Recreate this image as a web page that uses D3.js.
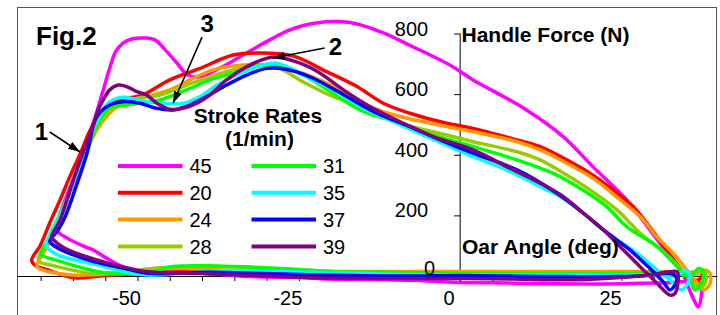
<!DOCTYPE html>
<html>
<head>
<meta charset="utf-8">
<script src="https://cdn.jsdelivr.net/npm/d3@7"></script>
<style>
body { margin: 0; background: #fff; }
svg { display: block; font-family: "Liberation Sans", Arial, sans-serif; }
.loop { fill: none; stroke-width: 3.5; stroke-linejoin: round; }
.axis path, .axis line { stroke: #000; }
.axis text, .ylab { font-size: 20px; fill: #000; font-family: "Liberation Sans", Arial, sans-serif; }
.lbl { font-weight: bold; fill: #000; }
.leg { font-size: 20px; fill: #000; }
</style>
</head>
<body>
<svg width="720" height="315"></svg>
<script>
// stroke rates (1/min), drawn in this order
const rates = ["45", "20", "24", "28", "31", "35", "37", "39"];
const colors = ["#ff00ff", "#ff0000", "#ff9900", "#99cc00", "#00ff00", "#00ffff", "#0000ff", "#800080"];

// [oar angle (deg), handle force (N)] per stroke, drive then recovery
const r45 = [[-62.5,152],[-61.2,251],[-59.7,333],[-58.1,422],[-56.6,521],[-55.4,607],[-54.3,686],[-53.4,739],[-52.2,769],[-50.9,782],[-48.8,785],[-47.3,779],[-45.7,746],[-43.9,703],[-42.2,663],[-40.3,657],[-37.2,686],[-33.1,736],[-29.5,779],[-26.4,812],[-22.3,835],[-17.1,836],[-12.4,806],[-7.3,756],[-1.6,696],[2.0,647],[9.8,554],[16.0,459],[20.6,360],[25.8,251],[29.4,152],[32.0,79],[34.1,26],[35.1,-23],[36.1,-73],[36.9,-102],[37.4,-60],[37.3,-25],[31.0,-23],[21.7,-26],[12.4,-25],[4.6,-22],[0.4,-22],[-6.2,-15],[-12.4,-12],[-20.7,-10],[-24.8,-5],[-32.6,-2],[-39.3,8],[-45.0,13],[-49.6,15],[-52.2,30],[-54.8,59],[-56.9,86],[-58.1,96],[-60.9,125]];
const r20 = [[-66.4,53],[-65.1,99],[-63.6,175],[-62.0,251],[-60.5,327],[-58.9,402],[-57.4,478],[-55.8,538],[-54.3,567],[-51.7,586],[-49.2,597],[-45.0,647],[-40.3,685],[-35.2,729],[-31.0,736],[-25.9,726],[-20.7,674],[-16.0,625],[-11.9,570],[-7.8,537],[-2.1,504],[2.0,487],[8.8,449],[12.4,427],[16.5,383],[20.1,339],[23.7,284],[26.8,229],[30.5,130],[34.1,25],[35.6,-7],[36.9,-13],[37.5,3],[36.7,13],[34.1,7],[21.7,7],[6.2,8],[0,9],[-9.3,8],[-24.8,13],[-40.3,16],[-48.1,10],[-55.8,0],[-59.7,-6],[-63.9,20],[-65.9,36]];
const r24 = [[-65.6,33],[-64.3,86],[-62.8,152],[-61.2,234],[-59.7,317],[-58.1,399],[-56.3,482],[-53.8,548],[-51.7,575],[-48.6,592],[-45.0,614],[-41.4,652],[-38.3,680],[-35.2,693],[-31.0,696],[-27.2,686],[-23.3,660],[-18.6,614],[-14.0,559],[-9.3,526],[-2.1,493],[2.0,476],[8.8,443],[12.4,416],[16.5,372],[20.6,322],[24.8,251],[27.9,196],[30.7,124],[33.0,75],[35.1,20],[36.6,-19],[37.7,-46],[38.7,-26],[38.7,10],[37.6,20],[36.9,7],[34.1,13],[21.7,15],[0,15],[-17.1,15],[-32.6,16],[-40.3,23],[-46.5,26],[-52.7,10],[-60.2,3],[-63.6,13],[-65.1,23]];
const r28 = [[-65.4,56],[-64.3,102],[-62.8,168],[-61.2,241],[-59.7,323],[-58.1,406],[-56.4,488],[-53.8,559],[-50.1,586],[-46.5,597],[-42.4,630],[-38.8,657],[-35.2,680],[-31.0,696],[-27.9,683],[-24.4,641],[-20.2,597],[-15.5,559],[-9.3,504],[-2.1,465],[2.0,443],[8.8,410],[12.4,383],[16.5,333],[20.1,284],[24.3,218],[27.9,141],[31.5,80],[34.6,14],[36.1,-24],[37.2,-40],[38.1,-16],[37.9,13],[36.9,13],[34.1,10],[21.7,10],[0,10],[-17.1,13],[-26.4,22],[-37.7,31],[-44.5,30],[-49.6,20],[-57.1,9],[-63.4,36],[-65.1,46]];
const r31 = [[-65.0,73],[-63.9,119],[-62.6,178],[-61.2,241],[-59.7,317],[-58.1,399],[-56.3,498],[-54.3,554],[-51.7,564],[-46.5,581],[-42.4,614],[-38.8,647],[-35.2,669],[-32.1,690],[-29.0,696],[-26.4,686],[-21.7,630],[-15.5,548],[-9.3,504],[-5.2,471],[2.0,427],[8.8,383],[15.0,333],[18.6,289],[22.7,229],[25.8,163],[30.5,97],[33.6,31],[35.6,-13],[36.4,-46],[37.4,-24],[37.7,14],[36.9,25],[35.9,3],[32.5,10],[21.7,8],[0,9],[-12.4,12],[-19.7,14],[-26.4,23],[-37.7,33],[-44.5,31],[-48.1,13],[-53.5,7],[-56.1,14],[-62.8,53],[-64.6,66]];
const r35 = [[-64.2,102],[-63.3,145],[-62.0,201],[-60.5,277],[-58.9,366],[-57.4,455],[-55.8,531],[-54.3,575],[-52.2,590],[-50.1,581],[-46.5,570],[-42.9,570],[-40.3,592],[-37.7,630],[-34.6,663],[-31.5,690],[-28.4,702],[-25.9,680],[-23.3,652],[-19.1,608],[-15.5,559],[-10.4,509],[-5.2,460],[2.0,394],[7.2,350],[12.4,295],[16.0,256],[19.1,207],[22.2,152],[24.3,119],[27.4,75],[30.5,20],[32.5,-13],[34.3,-46],[35.6,-2],[34.8,20],[33.8,3],[29.4,3],[18.6,5],[0,3],[-12.4,7],[-24.8,13],[-37.7,16],[-48.4,3],[-51.9,14],[-56.1,36],[-62.3,69],[-63.9,92]];
const r37 = [[-63.6,115],[-62.3,152],[-61.2,196],[-59.7,284],[-57.9,399],[-56.3,526],[-54.3,564],[-52.2,575],[-49.6,570],[-47.0,553],[-44.5,548],[-41.9,564],[-39.3,592],[-36.2,630],[-33.1,663],[-30.0,685],[-27.9,685],[-24.8,669],[-21.7,641],[-17.6,592],[-12.9,537],[-7.8,493],[-3.1,449],[2.0,405],[8.8,350],[15.0,273],[19.1,207],[22.2,152],[26.3,86],[29.4,25],[31.5,-20],[32.5,-46],[33.6,-13],[32.8,7],[27.9,0],[15.4,-2],[0,2],[-9.3,0],[-24.8,5],[-38.8,12],[-48.3,9],[-51.9,25],[-56.6,47],[-61.8,86],[-63.3,106]];
const r39 = [[-63.3,129],[-62.0,185],[-60.2,300],[-58.4,409],[-57.0,488],[-56.1,548],[-55.3,581],[-54.3,614],[-53.0,630],[-51.7,625],[-50.1,608],[-48.6,597],[-47.0,570],[-45.0,550],[-42.9,553],[-40.8,570],[-38.8,597],[-36.2,647],[-33.1,690],[-30.0,718],[-28.4,722],[-24.8,702],[-21.7,669],[-18.1,614],[-13.5,553],[-8.8,504],[-4.2,460],[2.0,416],[7.2,361],[12.4,306],[16.0,262],[19.1,207],[22.2,152],[25.3,86],[28.4,20],[30.5,-24],[32.5,-63],[33.3,-57],[33.8,-2],[33.6,14],[29.4,3],[18.6,-12],[8.2,-10],[0,-8],[-20.2,-7],[-32.6,2],[-40.3,8],[-48.3,14],[-52.5,31],[-57.1,58],[-61.2,91],[-63.0,119]];
const loops = [r45, r20, r24, r28, r31, r35, r37, r39];

const xTicks = [-65, -60, -55, -50, -45, -40, -35, -30, -25, -20, -15, -10, -5, 0, 5, 10, 15, 20, 25, 30, 35];
const xLabels = [-50, -25, 0, 25];
const yTicks = [0, 200, 400, 600, 800];

// annotations: label, tail [deg, N], tip [deg, N]
const notes = [
  ["1", [-63.6, 475], [-58.9, 409]],
  ["2", [-21.0, 752], [-29.0, 719]],
  ["3", [-40.0, 788], [-44.5, 570]]
];

const svg = d3.select("svg");

const x = d3.scaleLinear().domain([-50, 25]).range([137.5, 621.5]);
const y = d3.scaleLinear().domain([0, 800]).range([276, 33.5]);

// chart frame
svg.append("rect")
  .attr("x", 17.5).attr("y", 7.5)
  .attr("width", 699).attr("height", 340)
  .attr("fill", "none").attr("stroke", "#555");

const xAxisScale = d3.scaleLinear().domain([x.invert(17), x.invert(717)]).range([17, 717]);
const xAxis = svg.append("g")
  .attr("class", "axis")
  .attr("transform", `translate(0,${y(0)})`)
  .call(d3.axisBottom(xAxisScale).tickValues(xTicks).tickSize(5).tickSizeOuter(0)
    .tickFormat(d => xLabels.includes(d) ? String(d) : ""));
xAxis.selectAll("text").attr("y", 29).attr("dy", 0).attr("x", -11.5);

const yAxisScale = d3.scaleLinear().domain([y.invert(281), 800]).range([281, y(800)]);
const yAxis = svg.append("g")
  .attr("class", "axis")
  .attr("transform", `translate(${x(0)},0)`)
  .call(d3.axisLeft(yAxisScale).tickValues(yTicks).tickSize(6).tickSizeOuter(0).tickFormat(""));
yAxis.select(".domain").remove();
yAxis.append("line").attr("x1", 0).attr("x2", 0).attr("y1", y(800)).attr("y2", 281).attr("stroke", "#000");

const line = d3.line()
  .x(d => x(d[0]))
  .y(d => y(d[1]))
  .curve(d3.curveCatmullRomClosed.alpha(0.5));

svg.selectAll("path.loop")
  .data(loops)
  .enter()
  .append("path")
  .attr("class", "loop")
  .attr("d", line)
  .attr("stroke", (d, i) => colors[i]);

// force tick labels sit above the curves
svg.selectAll("text.ylab")
  .data(yTicks)
  .enter()
  .append("text")
  .attr("class", "ylab")
  .attr("text-anchor", "end")
  .attr("x", d => x(0) + (d === 0 ? -25 : -32))
  .attr("y", d => y(d) + (d === 0 ? -1 : 2))
  .text(d => d);

// axis titles
svg.append("text").attr("class", "lbl").attr("x", 461.5).attr("y", 42).style("font-size", "21px").text("Handle Force (N)");
svg.append("text").attr("class", "lbl").attr("x", 462).attr("y", 254).style("font-size", "21px").text("Oar Angle (deg)");
svg.append("text").attr("class", "lbl").attr("x", 36).attr("y", 44.5).style("font-size", "26px").text("Fig.2");

// legend
svg.append("text").attr("class", "lbl").attr("x", 258).attr("y", 123).attr("text-anchor", "middle").style("font-size", "21px").text("Stroke Rates");
svg.append("text").attr("class", "lbl").attr("x", 259.5).attr("y", 145.5).attr("text-anchor", "middle").style("font-size", "21px").text("(1/min)");

const legend = svg.selectAll("g.legend")
  .data(rates)
  .enter()
  .append("g")
  .attr("class", "legend")
  .attr("transform", (d, i) => `translate(${i < 4 ? 118 : 251.5},${166 + (i % 4) * 26.8})`);

legend.append("line")
  .attr("x1", 0).attr("x2", 64.5)
  .attr("stroke", (d, i) => colors[i])
  .attr("stroke-width", 4);

legend.append("text")
  .attr("class", "leg")
  .attr("x", 71.5)
  .attr("y", 7.3)
  .text(d => d);

// arrows
svg.append("defs").append("marker")
  .attr("id", "head")
  .attr("markerUnits", "userSpaceOnUse")
  .attr("viewBox", "0 0 12 8")
  .attr("refX", 12).attr("refY", 4)
  .attr("markerWidth", 12).attr("markerHeight", 8)
  .attr("orient", "auto")
  .append("path")
  .attr("d", "M0,0L12,4L0,8Z")
  .attr("fill", "#000");

const note = svg.selectAll("g.note")
  .data(notes)
  .enter()
  .append("g")
  .attr("class", "note");

note.append("line")
  .attr("x1", d => x(d[1][0])).attr("y1", d => y(d[1][1]))
  .attr("x2", d => x(d[2][0])).attr("y2", d => y(d[2][1]))
  .attr("stroke", "#000").attr("stroke-width", 1.6)
  .attr("marker-end", "url(#head)");

note.append("text")
  .attr("class", "lbl")
  .style("font-size", "24px")
  .attr("x", d => x(d[1][0]) + (d[0] === "1" ? -15 : d[0] === "2" ? 4 : -1.5))
  .attr("y", d => y(d[1][1]) + (d[0] === "1" ? 8 : d[0] === "2" ? 7 : -5))
  .text(d => d[0]);
</script>
</body>
</html>
